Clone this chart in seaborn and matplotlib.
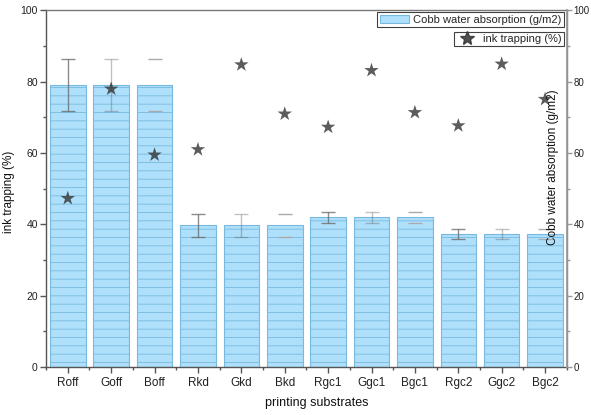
import matplotlib
matplotlib.use("Agg")
import matplotlib.pyplot as plt
import seaborn as sns
import numpy as np
import pandas as pd
from matplotlib.ticker import MultipleLocator, FixedLocator
from matplotlib.patches import Patch
from matplotlib.lines import Line2D

# ---- data ----
substrates = ["Roff", "Goff", "Boff", "Rkd", "Gkd", "Bkd",
              "Rgc1", "Ggc1", "Bgc1", "Rgc2", "Ggc2", "Bgc2"]
cobb = [79.0, 79.0, 79.0, 39.7, 39.7, 39.7, 42.0, 42.0, 42.0, 37.4, 37.4, 37.4]
cobb_err = [7.3, 7.3, 7.3, 3.3, 3.3, 3.3, 1.6, 1.6, 1.6, 1.4, 1.4, 1.4]
ink = [47.3, 78.0, 59.5, 61.0, 84.8, 71.0, 67.3, 83.2, 71.4, 67.7, 85.0, 75.1]

sns.set_theme(style="white")
plt.rcParams['font.family'] = ['Liberation Sans', 'DejaVu Sans']

df = pd.DataFrame({"substrate": substrates, "cobb": cobb, "ink": ink})

fig = plt.figure(figsize=(5.91, 4.15), dpi=100)
ax = fig.add_axes([0.078, 0.1157, 0.881, 0.859])

plt.rcParams['hatch.linewidth'] = 0.6
sns.barplot(data=df, x="substrate", y="cobb", ax=ax, color="#aee0fc",
            saturation=1, width=0.82, edgecolor="#79b9de", linewidth=0.8,
            hatch="--", errorbar=None, zorder=2)
for p in ax.patches:
    p.set_facecolor("#aee0fc")

pos = np.arange(len(substrates))
err_alpha = [0.75, 0.4, 0.0] * 4
for i in range(len(substrates)):
    if err_alpha[i] > 0:
        ax.errorbar(pos[i], cobb[i], yerr=cobb_err[i], fmt="none",
                    ecolor="#666666", elinewidth=1.0, capsize=5, capthick=1.0,
                    alpha=err_alpha[i], zorder=3)
    else:
        ax.errorbar(pos[i], cobb[i], yerr=cobb_err[i], fmt="none",
                    ecolor="#aaaaaa", elinewidth=0, capsize=5, capthick=1.0,
                    zorder=3)

sns.scatterplot(data=df, x="substrate", y="ink", ax=ax, marker="*", s=120,
                color="#333333", edgecolor="none", alpha=0.8, zorder=4)

ax.set_xlim(-0.5, len(substrates) - 0.5)
ax.set_ylim(0, 100)
ax.yaxis.set_major_locator(MultipleLocator(20))
ax.yaxis.set_minor_locator(MultipleLocator(10))
ax.xaxis.set_minor_locator(FixedLocator(np.arange(-0.5, len(substrates), 1.0)))

spine_c = "#555555"
for s in ax.spines.values():
    s.set_color("#777777")
    s.set_linewidth(1.0)
ax.spines['left'].set_color(spine_c)
ax.spines['bottom'].set_color(spine_c)

ax.tick_params(axis="both", which="major", direction="out", length=4, width=1,
               color=spine_c, labelcolor="#222222")
ax.tick_params(axis="y", which="major", labelsize=7.5, pad=2)
ax.tick_params(axis="x", which="major", labelsize=8.5, pad=3)
ax.tick_params(axis="both", which="minor", direction="out", length=2.5,
               width=1, color=spine_c)
ax.tick_params(left=True, bottom=True, which="both")

ax.set_xlabel("printing substrates", fontsize=9, color="#111111")
ax.xaxis.set_label_coords(0.52, -0.085)
ax.set_ylabel("ink trapping (%)", fontsize=8.5, color="#111111")
ax.yaxis.set_label_coords(-0.06, 0.49)

ax2 = ax.twinx()
ax2.set_ylim(0, 100)
ax2.yaxis.set_major_locator(MultipleLocator(20))
ax2.yaxis.set_minor_locator(MultipleLocator(10))
ax2.tick_params(axis="y", which="major", direction="out", length=3.5, width=1,
                color="#999999", labelsize=7, pad=1.5, labelcolor="#222222",
                right=True)
ax2.tick_params(axis="y", which="minor", direction="out", length=2.5, width=1,
                color="#999999", right=True)
for s in ax2.spines.values():
    s.set_visible(False)
ax2.spines['right'].set_visible(True)
ax2.spines['right'].set_color("#999999")
ax2.set_ylabel("Cobb water absorption (g/m2)", fontsize=8.5, color="#111111")
ax2.yaxis.set_label_coords(0.962, 0.56)

h1 = Patch(facecolor="#aee0fc", edgecolor="#79b9de", linewidth=0.8)
l1 = ax2.legend([h1], ["Cobb water absorption (g/m2)"], loc="upper right",
                bbox_to_anchor=(0.994, 0.995), fontsize=8, frameon=True,
                fancybox=False, borderpad=0.2, handlelength=2.6,
                handletextpad=0.4, borderaxespad=0)
l1.get_frame().set_edgecolor("#111111")
l1.get_frame().set_linewidth(0.8)
ax2.add_artist(l1)
h2 = Line2D([], [], marker="*", linestyle="none", color="#333333",
            markersize=10, alpha=0.85)
l2 = ax2.legend([h2], ["ink trapping (%)"], loc="upper right",
                bbox_to_anchor=(0.994, 0.94), fontsize=8, frameon=True,
                fancybox=False, borderpad=0.2, handlelength=2.0,
                handletextpad=0.4, borderaxespad=0)
l2.get_frame().set_edgecolor("#111111")
l2.get_frame().set_linewidth(0.8)

fig.savefig("out.png", dpi=100)
